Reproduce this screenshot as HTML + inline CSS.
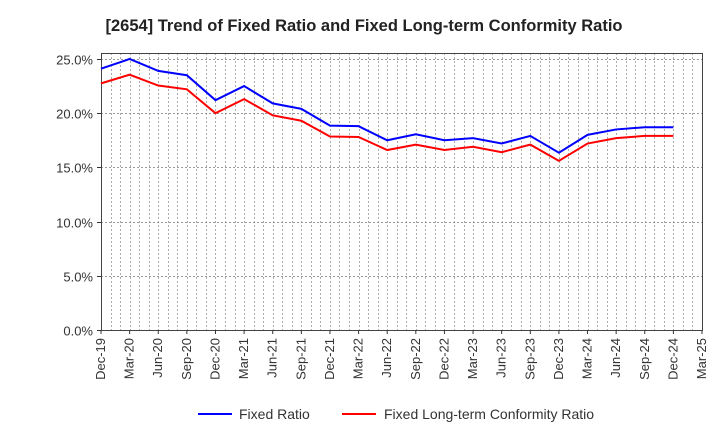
<!DOCTYPE html>
<html><head><meta charset="utf-8"><style>body{margin:0;background:#fff}svg{font-family:"Liberation Sans",sans-serif}</style></head>
<body>
<svg id="c" width="720" height="440"></svg>
<script>
const categories=["Dec-19","Mar-20","Jun-20","Sep-20","Dec-20","Mar-21","Jun-21","Sep-21","Dec-21","Mar-22","Jun-22","Sep-22","Dec-22","Mar-23","Jun-23","Sep-23","Dec-23","Mar-24","Jun-24","Sep-24","Dec-24","Mar-25"];
const fixedRatio=[24.1,25.0,23.9,23.5,21.2,22.5,20.9,20.4,18.85,18.8,17.5,18.05,17.5,17.7,17.2,17.9,16.35,18.0,18.5,18.7,18.7];
const conformityRatio=[22.75,23.55,22.55,22.2,20.0,21.3,19.8,19.3,17.85,17.8,16.6,17.1,16.6,16.9,16.4,17.1,15.6,17.2,17.7,17.9,17.9];
const yTicks=[0,5,10,15,20,25];
const yTickLabels=["0.0%","5.0%","10.0%","15.0%","20.0%","25.0%"];
const L=101,R=702,T=53,B=330,yMax=25.55;
const svg=document.getElementById('c');const NS='http://www.w3.org/2000/svg';
function mk(t,a,p,name){const e=document.createElementNS(NS,t);for(const k in a)e.setAttribute(k,a[k]);
(p||svg).appendChild(e);return e;}
const xs=i=>L+i*(R-L)/(categories.length-1);
const ys=v=>B-v/yMax*(B-T);
const t=mk('text',{x:364,y:31,'text-anchor':'middle','font-size':16.5,'font-weight':'bold',fill:'#222'},svg,'chart-title');t.textContent='[2654]  Trend of Fixed Ratio and Fixed Long-term Conformity Ratio';
for(let m=1;m<(categories.length-1)*3;m++){const x=Math.round(L+m*(R-L)/((categories.length-1)*3))+0.5;mk('line',{x1:x,x2:x,y1:T,y2:B,stroke:'#aaa','stroke-dasharray':'2,2','stroke-width':1},svg,'v-grid');}
yTicks.forEach((v,i)=>{const y=Math.round(ys(v))+0.5;if(v>0)mk('line',{x1:L,x2:R,y1:y,y2:y,stroke:'#999','stroke-dasharray':'2,2'},svg,'h-grid');
mk('line',{x1:L-4,x2:L,y1:y,y2:y,stroke:'#333'},svg,'y-tick');
const tx=mk('text',{x:L-8,y:y+5,'text-anchor':'end','font-size':13,fill:'#333'},svg,'y-tick-label');tx.textContent=yTickLabels[i];});
mk('rect',{x:L+0.5,y:T+0.5,width:R-L,height:B-T,fill:'none',stroke:'#444'},svg,'plot-area');
categories.forEach((c,i)=>{const x=xs(i);mk('line',{x1:x,x2:x,y1:B,y2:B+4,stroke:'#333'},svg,'x-tick');
const tx=mk('text',{x:x+4,y:B+8,'text-anchor':'end','font-size':13,fill:'#333',transform:`rotate(-90 ${x+4} ${B+8})`},svg,'x-tick-label');tx.textContent=c;});
function line(d,col,name){mk('polyline',{points:d.map((v,i)=>xs(i)+','+ys(v)).join(' '),fill:'none',stroke:col,'stroke-width':2},svg,name);}
line(fixedRatio,'#0000ff','fixed-ratio-line');line(conformityRatio,'#ff0000','conformity-ratio-line');
mk('line',{x1:198,x2:232,y1:414,y2:414,stroke:'#0000ff','stroke-width':2},svg,'legend-fixed-swatch');
let lt=mk('text',{x:239,y:419,'font-size':14,fill:'#333'},svg,'legend-fixed-label');lt.textContent='Fixed Ratio';
mk('line',{x1:342,x2:376,y1:414,y2:414,stroke:'#ff0000','stroke-width':2},svg,'legend-conformity-swatch');
lt=mk('text',{x:384,y:419,'font-size':14,fill:'#333'},svg,'legend-conformity-label');lt.textContent='Fixed Long-term Conformity Ratio';
</script>
</body></html>
